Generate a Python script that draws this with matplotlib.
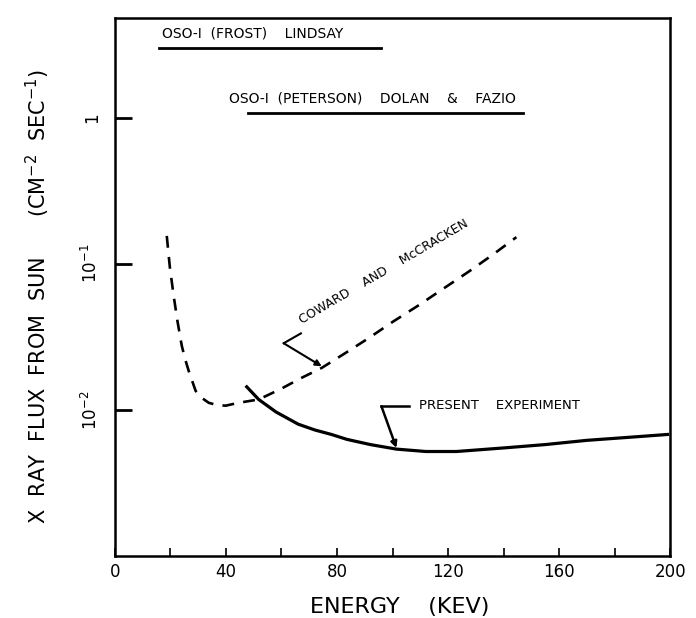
import matplotlib.pyplot as plt

# Coward and McCracken (dashed)
cm_energy = [18.7, 19.8, 21.2, 22.6, 24.1, 25.4, 26.6, 27.9, 29.1, 31.3, 33.8, 36.8, 39.9,
             44.6, 51.8, 60, 67, 74.5, 83, 91.4, 100, 109.4, 118, 127.3, 136, 144.6]
cm_flux = [0.155, 0.095, 0.060, 0.040, 0.0275, 0.022, 0.0185, 0.0157, 0.0135, 0.0121, 0.0112,
           0.0108, 0.0107, 0.0112, 0.0118, 0.0140, 0.0165, 0.0194, 0.0245, 0.031, 0.040,
           0.052, 0.067, 0.088, 0.115, 0.152]

# present experiment (solid)
pe_energy = [47.5, 51.8, 58, 66, 72, 78, 83.5, 92, 101.4, 112, 123, 140, 155, 170, 185, 199]
pe_flux = [0.0144, 0.0118, 0.0097, 0.0080, 0.0073, 0.0068, 0.0063, 0.0058, 0.0054, 0.0052,
           0.0052, 0.0055, 0.0058, 0.0062, 0.0065, 0.0068]

# OSO-1 energy ranges
oso_labels = ["OSO-I  (FROST)    LINDSAY", "OSO-I  (PETERSON)    DOLAN    &    FAZIO"]
oso_text_x = [17, 41]
oso_lo = [16, 48]
oso_hi = [96, 147]
oso_flux = [3.0, 1.08]

fig = plt.figure(figsize=(6.96, 6.18), dpi=100)
ax = fig.add_axes([0.165, 0.100, 0.798, 0.871])

ax.plot(cm_energy, cm_flux, color='black', lw=1.9, ls=(0, (4.5, 3.5)))
ax.plot(pe_energy, pe_flux, color='black', lw=2.3)

for lab, tx, lo, hi, f in zip(oso_labels, oso_text_x, oso_lo, oso_hi, oso_flux):
    ax.plot([lo, hi], [f, f], color='black', lw=2.0)
    ax.text(tx, f * 1.12, lab, fontsize=10, ha='left', va='bottom')

ax.set_yscale('log')
ax.set_xlim(0, 200)
ax.set_ylim(1e-3, 4.8)

ax.set_xticks([0, 20, 40, 60, 80, 100, 120, 140, 160, 180, 200])
ax.set_xticklabels(['0', '', '40', '', '80', '', '120', '', '160', '', '200'], fontsize=12)
ax.set_yticks([1, 0.1, 0.01])
ax.set_yticklabels(['1', '10$^{-1}$', '10$^{-2}$'], fontsize=12, rotation=90, va='center')
ax.yaxis.set_minor_locator(plt.NullLocator())
ax.tick_params(axis='x', direction='in', length=6, width=1.2, pad=5)
ax.tick_params(axis='y', direction='in', length=12, width=2, pad=10)

for s in ax.spines.values():
    s.set_linewidth(1.8)

ax.set_xlabel('ENERGY    (KEV)', fontsize=16, va='center')
ax.xaxis.set_label_coords(0.513, -0.095)
ax.set_ylabel('X  RAY  FLUX  FROM  SUN      (CM$^{-2}$  SEC$^{-1}$)', fontsize=15)
ax.yaxis.set_label_coords(-0.113, 0.483)

# annotations
ax.text(68, 0.037, 'COWARD    AND    McCRACKEN', fontsize=9, rotation=30.5, ha='left',
        va='bottom', rotation_mode='anchor')
ax.plot([60.8, 67], [0.0286, 0.0334], color='black', lw=1.5)
ax.annotate('', xy=(74.5, 0.0199), xytext=(60.8, 0.0286),
            arrowprops=dict(arrowstyle='-|>', color='black', lw=1.5, mutation_scale=9,
                            shrinkA=0, shrinkB=0))

ax.text(109.4, 0.0108, 'PRESENT    EXPERIMENT', fontsize=9.5, ha='left', va='center')
ax.plot([105.8, 96], [0.0106, 0.0106], color='black', lw=1.8)
ax.annotate('', xy=(101.4, 0.0055), xytext=(96, 0.0106),
            arrowprops=dict(arrowstyle='-|>', color='black', lw=1.8, mutation_scale=9,
                            shrinkA=0, shrinkB=0))

fig.savefig('out.png', dpi=100)
